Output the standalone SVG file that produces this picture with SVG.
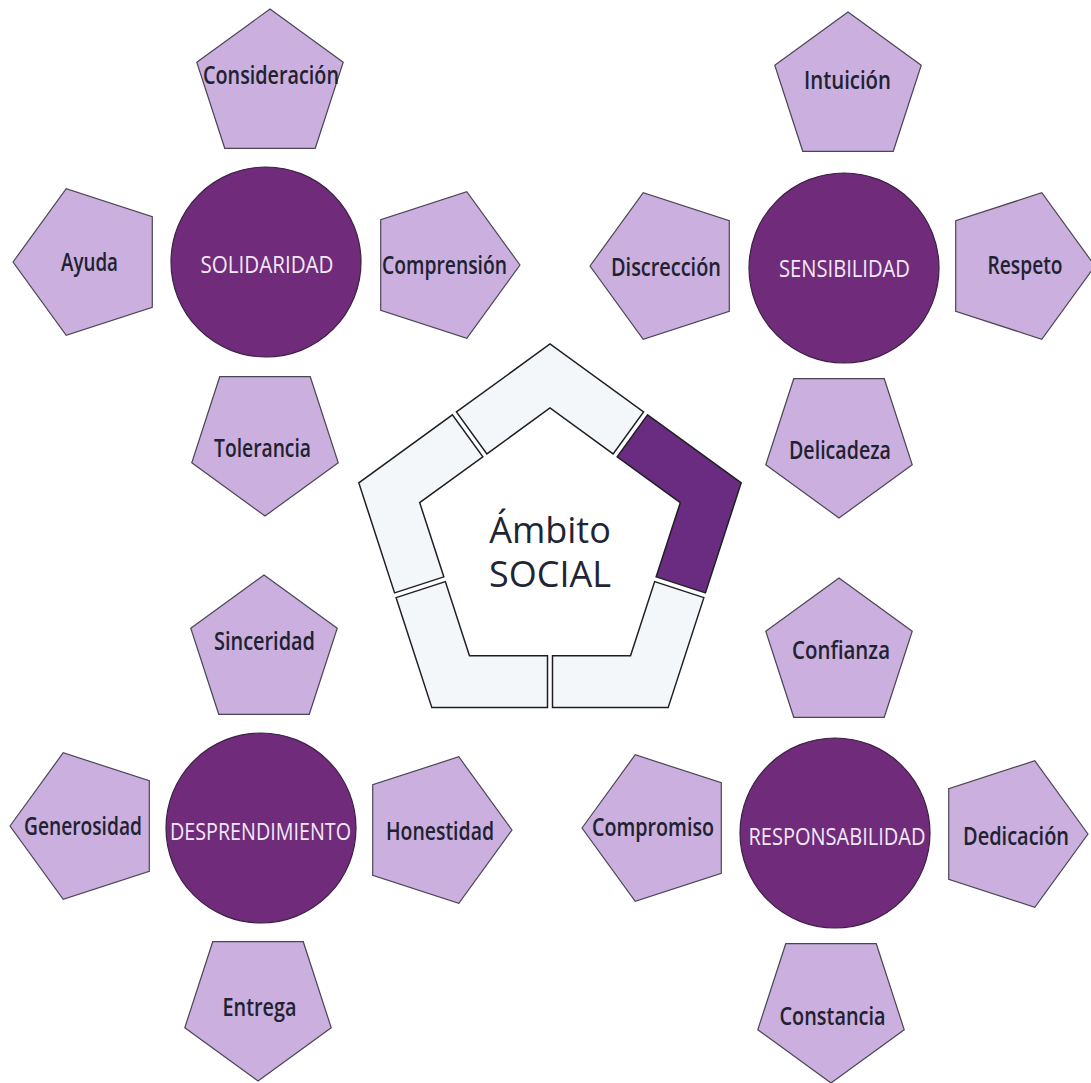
<svg xmlns="http://www.w3.org/2000/svg" xmlns:xlink="http://www.w3.org/1999/xlink" width="1091" height="1083" viewBox="0 0 1091 1083">
  <style>
    .pent { fill: #caafdf; stroke: #4a4654; stroke-width: 1.2; }
    .core { fill: #702b7a; stroke: #3d2145; stroke-width: 1.2; }
    .lbl { font-family: "Open Sans", "Noto Sans", sans-serif; font-size: 25px; font-weight: 600; fill: #1f2230; text-anchor: middle; }
    .clbl { font-family: "Open Sans", "Noto Sans", sans-serif; font-size: 24px; font-weight: 500; fill: #f1e9f6; text-anchor: middle; }
    .seg { fill: #f3f7fa; stroke: #1f1f24; stroke-width: 1.5; stroke-linejoin: miter; }
    .seg-on { fill: #6a2c80; }
    .title { font-family: "Open Sans", "Noto Sans", sans-serif; font-size: 36px; font-weight: 500; fill: #1e2533; text-anchor: middle; }
  </style>
  <defs>
    <polygon id="pu" points="0,-77 73.23,-23.79 45.26,62.29 -45.26,62.29 -73.23,-23.79"/>
    <polygon id="pd" points="0,77 73.23,23.79 45.26,-62.29 -45.26,-62.29 -73.23,23.79"/>
    <polygon id="pl" points="-77,0 -23.79,-73.23 62.29,-45.26 62.29,45.26 -23.79,73.23"/>
    <polygon id="pr" points="77,0 23.79,-73.23 -62.29,-45.26 -62.29,45.26 23.79,73.23"/>
  </defs>
  <rect x="0" y="0" width="1091" height="1083" fill="#ffffff"/>

  <g id="connectors"></g>

  <!-- Central pentagon ring -->
  <g id="ambito-social">
    <polygon class="seg" points="456.44,411.98 550,344 643.56,411.98 613.13,453.86 550,408 486.88,453.86"/>
    <polygon class="seg seg-on" points="647.60,414.92 741.16,482.89 705.43,592.87 656.18,576.87 680.29,502.66 617.17,456.80"/>
    <polygon class="seg" points="703.89,597.63 668.15,707.61 552.5,707.61 552.5,655.84 630.53,655.84 654.64,581.63"/>
    <polygon class="seg" points="547.5,707.61 431.85,707.61 396.11,597.63 445.36,581.63 469.47,655.84 547.5,655.84"/>
    <polygon class="seg" points="394.57,592.87 358.84,482.89 452.40,414.92 482.84,456.80 419.71,502.66 443.82,576.87"/>
    <text class="title"><tspan x="550" y="543">Ámbito</tspan><tspan x="550" y="587">SOCIAL</tspan></text>
  </g>

  <!-- Cluster 1: SOLIDARIDAD -->
  <g id="solidaridad"><circle class="core" cx="266" cy="262" r="95"/><text class="clbl" x="267" y="273" textLength="133" lengthAdjust="spacingAndGlyphs">SOLIDARIDAD</text></g>
  <g id="consideracion"><use xlink:href="#pu" href="#pu" class="pent" x="270" y="86"/><text class="lbl" x="271" y="84" textLength="136" lengthAdjust="spacingAndGlyphs">Consideración</text></g>
  <g id="ayuda"><use xlink:href="#pl" href="#pl" class="pent" x="90" y="262"/><text class="lbl" x="89.5" y="271" textLength="57" lengthAdjust="spacingAndGlyphs">Ayuda</text></g>
  <g id="comprension"><use xlink:href="#pr" href="#pr" class="pent" x="443" y="265"/><text class="lbl" x="444.5" y="274" textLength="125" lengthAdjust="spacingAndGlyphs">Comprensión</text></g>
  <g id="tolerancia"><use xlink:href="#pd" href="#pd" class="pent" x="265" y="439"/><text class="lbl" x="262.5" y="457" textLength="97" lengthAdjust="spacingAndGlyphs">Tolerancia</text></g>

  <!-- Cluster 2: SENSIBILIDAD -->
  <g id="sensibilidad"><circle class="core" cx="844" cy="268" r="95"/><text class="clbl" x="844.5" y="277" textLength="131" lengthAdjust="spacingAndGlyphs">SENSIBILIDAD</text></g>
  <g id="intuicion"><use xlink:href="#pu" href="#pu" class="pent" x="848" y="89"/><text class="lbl" x="847.5" y="89" textLength="87" lengthAdjust="spacingAndGlyphs">Intuición</text></g>
  <g id="discreccion"><use xlink:href="#pl" href="#pl" class="pent" x="667" y="266"/><text class="lbl" x="666" y="276" textLength="110" lengthAdjust="spacingAndGlyphs">Discrección</text></g>
  <g id="respeto"><use xlink:href="#pr" href="#pr" class="pent" x="1018" y="266"/><text class="lbl" x="1025" y="274" textLength="75" lengthAdjust="spacingAndGlyphs">Respeto</text></g>
  <g id="delicadeza"><use xlink:href="#pd" href="#pd" class="pent" x="839" y="441"/><text class="lbl" x="840" y="459" textLength="102" lengthAdjust="spacingAndGlyphs">Delicadeza</text></g>

  <!-- Cluster 3: DESPRENDIMIENTO -->
  <g id="desprendimiento"><circle class="core" cx="261" cy="828" r="95"/><text class="clbl" x="260.5" y="840" textLength="181" lengthAdjust="spacingAndGlyphs">DESPRENDIMIENTO</text></g>
  <g id="sinceridad"><use xlink:href="#pu" href="#pu" class="pent" x="264" y="652"/><text class="lbl" x="264.5" y="650" textLength="101" lengthAdjust="spacingAndGlyphs">Sinceridad</text></g>
  <g id="generosidad"><use xlink:href="#pl" href="#pl" class="pent" x="87" y="826"/><text class="lbl" x="83" y="835" textLength="118" lengthAdjust="spacingAndGlyphs">Generosidad</text></g>
  <g id="honestidad"><use xlink:href="#pr" href="#pr" class="pent" x="435" y="830"/><text class="lbl" x="440" y="840" textLength="108" lengthAdjust="spacingAndGlyphs">Honestidad</text></g>
  <g id="entrega"><use xlink:href="#pd" href="#pd" class="pent" x="258" y="1004"/><text class="lbl" x="259.5" y="1016" textLength="74" lengthAdjust="spacingAndGlyphs">Entrega</text></g>

  <!-- Cluster 4: RESPONSABILIDAD -->
  <g id="responsabilidad"><circle class="core" cx="835" cy="833" r="95"/><text class="clbl" x="837" y="845" textLength="177" lengthAdjust="spacingAndGlyphs">RESPONSABILIDAD</text></g>
  <g id="confianza"><use xlink:href="#pu" href="#pu" class="pent" x="839" y="655"/><text class="lbl" x="841" y="659" textLength="98" lengthAdjust="spacingAndGlyphs">Confianza</text></g>
  <g id="compromiso"><use xlink:href="#pl" href="#pl" class="pent" x="659" y="828"/><text class="lbl" x="653" y="836" textLength="122" lengthAdjust="spacingAndGlyphs">Compromiso</text></g>
  <g id="dedicacion"><use xlink:href="#pr" href="#pr" class="pent" x="1011" y="834"/><text class="lbl" x="1016" y="845" textLength="106" lengthAdjust="spacingAndGlyphs">Dedicación</text></g>
  <g id="constancia"><use xlink:href="#pd" href="#pd" class="pent" x="831" y="1006"/><text class="lbl" x="832.5" y="1025" textLength="106" lengthAdjust="spacingAndGlyphs">Constancia</text></g>
</svg>
